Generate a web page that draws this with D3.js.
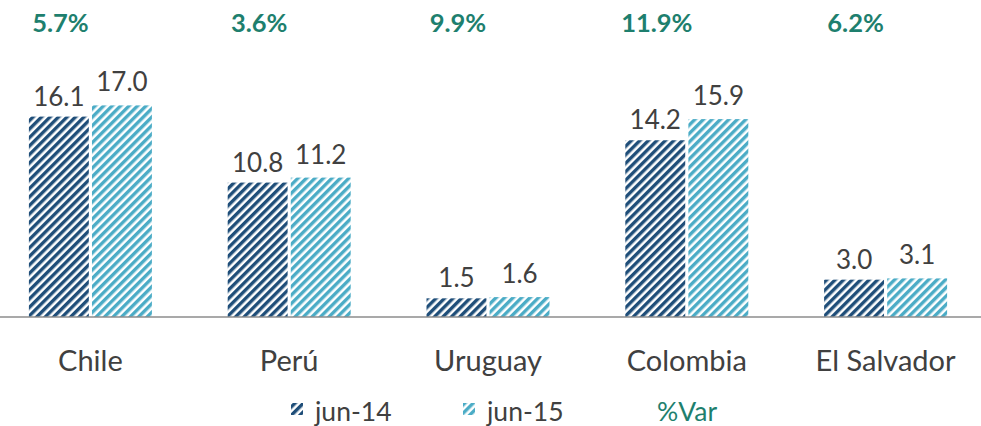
<!DOCTYPE html>
<html>
<head>
<meta charset="utf-8">
<script src="https://cdnjs.cloudflare.com/ajax/libs/d3/7.8.5/d3.min.js"></script>
<style>
  body { margin: 0; background: #fff; }
  svg { display: block; font-family: Lato, "Open Sans", sans-serif; }
</style>
</head>
<body>
<div id="chart"></div>
<script>
  // data
  var categories = ["Chile", "Perú", "Uruguay", "Colombia", "El Salvador"];
  var seriesNames = ["jun-14", "jun-15"];
  var jun14 = [16.1, 10.8, 1.5, 14.2, 3.0];
  var jun15 = [17.0, 11.2, 1.6, 15.9, 3.1];
  var pctVar = ["5.7%", "3.6%", "9.9%", "11.9%", "6.2%"];

  var width = 981, height = 426,
      baseline = 317;

  var colors = { "jun-14": "#1f4e79", "jun-15": "#4bacc6" };
  var pctColor = "#1e7f6e";
  var textColor = "#404040";

  var svg = d3.select("#chart").append("svg")
      .attr("width", width)
      .attr("height", height);

  // striped fills
  var defs = svg.append("defs");
  seriesNames.forEach(function(name, i) {
    var p = defs.append("pattern")
        .attr("id", "stripe" + i)
        .attr("patternUnits", "userSpaceOnUse")
        .attr("width", 6).attr("height", 6)
        .attr("patternTransform", "rotate(45)");
    p.append("rect").attr("width", 6).attr("height", 6).attr("fill", "#fff");
    p.append("rect").attr("width", 3.4).attr("height", 6).attr("fill", colors[name]);
  });

  var x0 = d3.scaleBand()
      .domain(categories)
      .range([-9, 985]);
  var x1 = d3.scaleBand()
      .domain(seriesNames)
      .range([0, 123])
      .paddingInner(0.05);
  var y = d3.scaleLinear()
      .domain([0, 17])
      .range([baseline, baseline - 211.6]);

  var rows = categories.map(function(c, i) {
    return { cat: c, vals: [jun14[i], jun15[i]], pct: pctVar[i] };
  });

  var groups = svg.selectAll(".grp")
      .data(rows)
      .enter().append("g")
      .attr("class", "grp")
      .attr("transform", function(d) {
        return "translate(" + (x0(d.cat) + (x0.bandwidth() - 123) / 2) + ",0)";
      });

  groups.selectAll("rect")
      .data(function(d) { return d.vals.map(function(v, i) { return { s: seriesNames[i], v: v, i: i }; }); })
      .enter().append("rect")
      .attr("x", function(d) { return x1(d.s); })
      .attr("width", x1.bandwidth())
      .attr("y", function(d) { return y(d.v); })
      .attr("height", function(d) { return baseline - y(d.v); })
      .attr("fill", function(d) { return "url(#stripe" + d.i + ")"; });

  groups.selectAll(".val")
      .data(function(d) { return d.vals.map(function(v, i) { return { s: seriesNames[i], v: v, i: i }; }); })
      .enter().append("text")
      .attr("class", "val")
      .attr("x", function(d) { return x1(d.s) + x1.bandwidth() / 2; })
      .attr("y", function(d) { return y(d.v) - (d.i ? 14 : 11); })
      .attr("text-anchor", "middle")
      .attr("font-size", 26)
      .attr("fill", textColor)
      .text(function(d) { return d.v.toFixed(1); });

  // %Var labels
  svg.selectAll(".pct")
      .data(rows)
      .enter().append("text")
      .attr("class", "pct")
      .attr("x", function(d) { return x0(d.cat) + x0.bandwidth() / 2 - 30; })
      .attr("y", 32)
      .attr("text-anchor", "middle")
      .attr("font-size", 25.5)
      .attr("font-weight", "bold")
      .attr("fill", pctColor)
      .text(function(d) { return d.pct; });

  // baseline
  svg.append("line")
      .attr("x1", 0).attr("x2", width)
      .attr("y1", baseline).attr("y2", baseline)
      .attr("stroke", "#8c8c8c")
      .attr("stroke-width", 1.5);

  // category labels
  svg.selectAll(".cat")
      .data(categories)
      .enter().append("text")
      .attr("class", "cat")
      .attr("x", function(d) { return x0(d) + x0.bandwidth() / 2; })
      .attr("y", 371)
      .attr("text-anchor", "middle")
      .attr("font-size", 29)
      .attr("fill", textColor)
      .text(function(d) { return d; });

  // legend
  var legend = svg.append("g");
  var legX = [291, 463];
  seriesNames.forEach(function(name, i) {
    legend.append("rect")
      .attr("x", legX[i]).attr("y", 403)
      .attr("width", 12).attr("height", 12)
      .attr("fill", "url(#stripe" + i + ")");
    legend.append("text")
      .attr("x", legX[i] + 24).attr("y", 421)
      .attr("font-size", 26.5)
      .attr("fill", textColor)
      .text(name);
  });
  legend.append("text")
    .attr("x", 657).attr("y", 421)
    .attr("font-size", 26.5)
    .attr("fill", pctColor)
    .text("%Var");
</script>
</body>
</html>
